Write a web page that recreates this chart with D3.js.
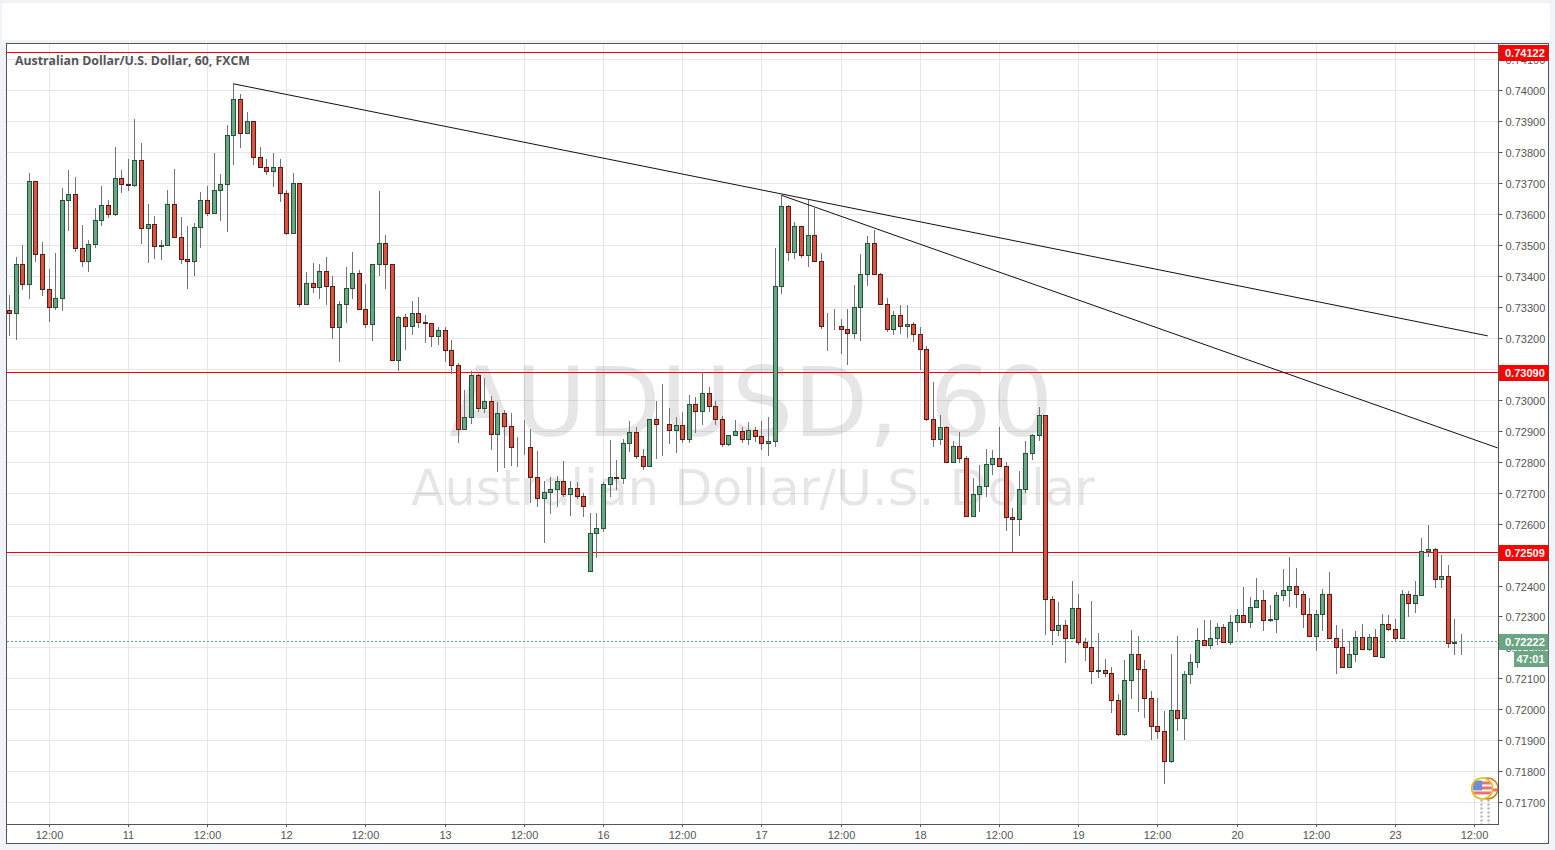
<!DOCTYPE html>
<html>
<head>
<meta charset="utf-8">
<script src="https://cdnjs.cloudflare.com/ajax/libs/d3/7.8.5/d3.min.js"></script>
<style>
html,body{margin:0;padding:0;background:#f0f3f7;overflow:hidden}
svg{display:block}
text{font-family:"Liberation Sans",Arial,sans-serif}
</style>
</head>
<body>
<svg id="c" width="1555" height="850"></svg>
<script>
// Prices in units of 0.00001, one entry per hourly candle
const opens=[73290,73280,73439,73374,73706,73471,73358,73300,73329,73646,73665,73490,73448,73503,73581,73630,73600,73717,73697,73693,
73775,73556,73569,73497,73500,73633,73526,73455,73448,73559,73646,73603,73678,73697,73856,73972,73862,73901,73785,73752,
73738,73752,73668,73540,73700,73308,73377,73363,73416,73368,73235,73309,73361,73409,73293,73245,73439,73506,73439,73129,
73267,73238,73280,73251,73248,73206,73225,73161,73112,72906,72945,73080,72974,72996,72890,72958,72916,72849,72849,72848,
72751,72683,72703,72712,72738,72696,72715,72690,72448,72570,72586,72728,72751,72748,72861,72896,72819,72786,72938,72921,
72922,72903,72919,72874,72987,72964,73022,72980,72938,72857,72887,72899,72874,72903,72883,72861,72867,73368,73626,73477,
73561,73468,73532,73448,73239,73238,73239,73229,73216,73300,73406,73506,73406,73309,73229,73274,73239,73245,73213,73164,
72938,72874,72912,72800,72851,72812,72625,72696,72722,72793,72812,72787,72622,72616,72712,72829,72887,72951,72356,72256,
72272,72230,72327,72217,72201,72123,72127,72117,72030,71920,72094,72178,72130,72036,71946,71930,71833,71997,71972,72114,
72152,72223,72207,72230,72265,72217,72281,72304,72281,72330,72353,72288,72292,72370,72387,72399,72373,72308,72237,72308,
72373,72231,72202,72137,72179,72234,72195,72234,72170,72276,72260,72231,72373,72344,72370,72512,72518,72421,72431,72215,72220];
const highs=[73340,73462,73501,73733,73706,73511,73424,73475,73685,73741,73721,73563,73516,73621,73692,73644,73815,73741,73779,73908,
73831,73634,73594,73516,73676,73747,73589,73560,73570,73670,73690,73796,73728,73889,74022,73989,73931,73901,73818,73779,
73798,73779,73676,73733,73700,73413,73442,73440,73461,73400,73319,73429,73477,73419,73375,73439,73674,73532,73439,73272,
73277,73319,73332,73274,73248,73235,73235,73194,73119,73030,73093,73083,73070,73012,72993,72967,72958,72881,72935,72906,
72835,72738,72751,72754,72803,72738,72735,72700,72635,72635,72735,72870,72804,72874,72932,72912,72841,72938,72997,73051,
72974,72945,72961,73016,73009,73089,73041,72996,72948,72887,72935,72912,72929,72912,72932,72945,73490,73661,73629,73574,
73561,73645,73619,73474,73280,73293,73261,73293,73371,73471,73529,73548,73409,73329,73287,73307,73307,73251,73235,73174,
73058,72951,72915,72867,72896,72819,72748,72790,72841,72838,72913,72800,72651,72770,72867,72890,72977,72951,72365,72346,
72288,72414,72372,72230,72349,72246,72163,72136,72049,72160,72256,72236,72159,72059,72037,71994,72178,72236,72123,72178,
72262,72288,72288,72278,72275,72304,72323,72394,72362,72424,72385,72337,72379,72452,72493,72458,72383,72360,72321,72389,
72444,72273,72260,72221,72254,72276,72244,72260,72308,72305,72292,72386,72383,72415,72554,72596,72521,72499,72467,72292,72244];
const lows=[73209,73197,73357,73328,73447,73338,73254,73294,73291,73550,73479,73431,73415,73492,73564,73592,73596,73670,73679,73690,
73506,73445,73459,73454,73500,73526,73441,73361,73402,73492,73597,73603,73580,73545,73763,73816,73862,73760,73752,73728,
73690,73642,73536,73540,73303,73308,73347,73328,73308,73199,73124,73250,73328,73293,73234,73192,73402,73360,73129,73097,
73163,73211,73236,73188,73173,73179,73124,73086,72863,72906,72925,72965,72962,72840,72769,72782,72789,72785,72824,72669,
72656,72540,72634,72656,72689,72627,72683,72624,72448,72492,72575,72689,72711,72732,72834,72812,72776,72786,72812,72822,
72861,72832,72864,72864,72896,72922,72964,72922,72851,72854,72887,72864,72857,72867,72841,72822,72851,73345,73451,73458,
73461,73431,73448,73232,73160,73229,73150,73115,73200,73192,73371,73406,73309,73222,73212,73215,73202,73189,73098,72935,
72851,72858,72800,72800,72800,72625,72625,72640,72690,72761,72787,72579,72510,72563,72703,72809,72871,72244,72212,72241,
72153,72230,72210,72160,72086,72106,72109,71992,71917,71917,72037,71996,71976,71905,71908,71761,71830,71934,71905,72086,
72136,72207,72198,72210,72217,72210,72252,72281,72265,72330,72256,72286,72249,72354,72333,72330,72265,72237,72192,72257,
72231,72118,72137,72137,72157,72195,72192,72173,72170,72257,72224,72231,72302,72315,72370,72496,72396,72396,72202,72179,72179];
const closes=[73280,73439,73374,73706,73471,73358,73300,73329,73646,73665,73490,73448,73503,73581,73630,73600,73717,73697,73694,73775,
73556,73569,73497,73500,73633,73526,73455,73448,73559,73646,73603,73678,73697,73856,73972,73862,73901,73785,73752,73738,
73752,73668,73540,73700,73308,73377,73363,73416,73368,73235,73309,73361,73409,73293,73245,73439,73506,73439,73129,73267,
73238,73280,73251,73248,73206,73225,73161,73112,72906,72945,73080,72974,72996,72890,72958,72916,72848,72848,72848,72751,
72683,72703,72712,72738,72696,72715,72690,72657,72570,72586,72728,72751,72748,72861,72896,72819,72786,72938,72922,72922,
72903,72919,72874,72987,72964,73022,72980,72938,72857,72887,72899,72874,72903,72883,72861,72867,73368,73626,73477,73561,
73468,73532,73448,73238,73238,73239,73229,73216,73300,73406,73506,73406,73309,73229,73274,73239,73245,73213,73164,72938,
72874,72912,72800,72851,72812,72625,72696,72722,72793,72812,72787,72622,72616,72712,72829,72887,72951,72356,72256,72272,
72230,72327,72217,72201,72123,72127,72117,72030,71920,72094,72178,72130,72036,71946,71930,71833,71997,71972,72114,72152,
72223,72207,72230,72265,72217,72281,72304,72281,72330,72353,72288,72291,72370,72387,72399,72373,72308,72237,72308,72373,
72231,72202,72137,72179,72234,72195,72234,72173,72276,72260,72231,72373,72344,72370,72512,72518,72421,72431,72215,72218,72222];

const priceTicks=[74100,74000,73900,73800,73700,73600,73500,73400,73300,73200,73100,73000,72900,72800,72700,72600,72500,72400,72300,72200,72100,72000,71900,71800,71700];
const timeTickIndex=[6,18,30,42,54,66,78,90,102,114,126,138,150,162,174,186,198,210,222];
const timeTickLabels=["12:00","11","12:00","12","12:00","13","12:00","16","12:00","17","12:00","18","12:00","19","12:00","20","12:00","23","12:00"];
const levels=[74122,73090,72509];
const lastPrice=72222;
const countdown="47:01";
const trendStart1=[34,74022], trendEnd1=[224,73208];
const trendStart2=[117,73662], trendEnd2=[225.5,72846];
const eventIndex=[223,224.1];
const eventPrice=71746;
const title="Australian Dollar/U.S. Dollar, 60, FXCM";
const wmLine1="AUDUSD, 60", wmLine2="Australian Dollar/U.S. Dollar";

const UP="#6ba583",DOWN="#d75442",UPB="#225437",DOWNB="#5b1a13",WICK="#737375",GRID="#e6e6e6",FRAME="#555555",TXT="#555555";
const pane={l:7,t:44,r:1498,b:824};
const outer={r:1548.5,b:843.5};
const x=d3.scaleLinear().domain([0,220]).range([9.4,1461.4]);
const y=d3.scaleLinear().domain([71700,74000]).range([802.7,90.7]);
const px=i=>Math.floor(x(i))+0.5;
const py=v=>Math.floor(y(v));
const fmt=v=>(v/100000).toFixed(5);

const svg=d3.select("#c");
svg.append("rect").attr("x",2).attr("y",3).attr("width",1548).attr("height",37).attr("fill","#fff");
svg.append("rect").attr("x",pane.l-1).attr("y",pane.t-1).attr("width",outer.r-pane.l+1).attr("height",outer.b-pane.t+1).attr("fill","#fff");
const cx0=x(eventIndex[0])+1, cx1=x(eventIndex[1])-1, cy=y(eventPrice);
const defs=svg.append("defs");
defs.append("clipPath").attr("id","pc").append("rect").attr("x",pane.l).attr("y",pane.t).attr("width",pane.r-pane.l).attr("height",pane.b-pane.t);
defs.append("clipPath").attr("id","flagc").append("circle").attr("cx",cx0).attr("cy",cy).attr("r",9.7);

const g=svg.append("g").attr("clip-path","url(#pc)");
// grid
g.append("g").selectAll("line").data(priceTicks).join("line")
 .attr("x1",pane.l).attr("x2",pane.r).attr("y1",d=>py(d)+.5).attr("y2",d=>py(d)+.5).attr("stroke",GRID);
g.append("g").selectAll("line").data(timeTickIndex).join("line")
 .attr("x1",px).attr("x2",px).attr("y1",pane.t).attr("y2",pane.b).attr("stroke",GRID);
// watermark
g.append("text").text(wmLine1).attr("x",751).attr("y",436).attr("text-anchor","middle").attr("font-size",97).attr("fill","#555").attr("fill-opacity",.15).style("font-family","'DejaVu Sans'");
g.append("text").text(wmLine2).attr("x",753).attr("y",505).attr("text-anchor","middle").attr("font-size",49).attr("fill","#555").attr("fill-opacity",.15).style("font-family","'DejaVu Sans'");
// horizontal levels
g.append("g").selectAll("line").data(levels).join("line")
 .attr("x1",pane.l).attr("x2",pane.r).attr("y1",d=>py(d)+.5).attr("y2",d=>py(d)+.5).attr("stroke","#ff0000");
// last price line
g.append("line").attr("x1",pane.l).attr("x2",pane.r).attr("y1",py(lastPrice)+.5).attr("y2",py(lastPrice)+.5).attr("stroke",UP).attr("stroke-dasharray","2,2");
// candles
const idx=d3.range(opens.length);
const cg=g.append("g");
cg.selectAll("line").data(idx).join("line")
 .attr("x1",px).attr("x2",px).attr("y1",i=>py(highs[i])).attr("y2",i=>py(lows[i])+1).attr("stroke",WICK);
cg.selectAll("rect").data(idx).join("rect")
 .attr("x",i=>px(i)-2).attr("width",4)
 .attr("y",i=>py(Math.max(opens[i],closes[i]))+.5)
 .attr("height",i=>Math.max(py(Math.min(opens[i],closes[i]))-py(Math.max(opens[i],closes[i])),0))
 .attr("fill",i=>closes[i]>=opens[i]?UP:DOWN)
 .attr("stroke",i=>closes[i]>=opens[i]?UPB:DOWNB);
// trend lines
[[trendStart1,trendEnd1],[trendStart2,trendEnd2]].forEach(([a,b])=>{
 g.append("line").attr("x1",x(a[0])).attr("y1",y(a[1])).attr("x2",x(b[0])).attr("y2",y(b[1])).attr("stroke","#111").attr("stroke-width",1);
});
// events
g.append("g").selectAll("line").data(eventIndex).join("line")
 .attr("x1",px).attr("x2",px).attr("y1",cy+11).attr("y2",pane.b).attr("stroke","#a8a8a8").attr("stroke-width",2).attr("stroke-dasharray","2,2");
g.append("circle").attr("cx",cx1).attr("cy",cy).attr("r",10.5).attr("fill","#fff").attr("stroke","#c9841f").attr("stroke-width",1.5);
g.append("rect").attr("x",cx1+2).attr("y",cy).attr("width",9).attr("height",3).attr("fill","#ef6a6a");
g.append("circle").attr("cx",cx0).attr("cy",cy).attr("r",10.5).attr("fill","#fff").attr("stroke","#d9c413").attr("stroke-width",1.6);
const fl=g.append("g").attr("clip-path","url(#flagc)");
[-7,-2,3].forEach(d=>fl.append("rect").attr("x",cx0-10).attr("y",cy+d).attr("width",20).attr("height",3).attr("fill","#ef7070"));
fl.append("rect").attr("x",cx0-9).attr("y",cy-8).attr("width",9).attr("height",10).attr("fill","#6d8fd6");
// title
svg.append("text").text(title).attr("x",15).attr("y",65).attr("font-size",12.3).attr("font-weight",700).attr("fill",TXT).style("font-family","'Open Sans'");
// axes
const yAxis=d3.axisRight(y).tickValues(priceTicks).tickFormat(fmt).tickSize(4).tickPadding(3);
const ya=svg.append("g").attr("transform",`translate(${pane.r+.5},0)`).call(yAxis);
ya.select(".domain").remove();
ya.selectAll(".tick").attr("transform",d=>`translate(0,${py(d)+.5})`);
ya.selectAll("line").attr("stroke",FRAME);
ya.selectAll("text").attr("y",1).attr("font-size",11).attr("fill",TXT).attr("font-family","'Liberation Sans'");
const xAxis=d3.axisBottom(x).tickValues(timeTickIndex.filter(i=>x(i)<pane.r)).tickFormat(i=>timeTickLabels[timeTickIndex.indexOf(i)]).tickSize(3).tickPadding(4);
const xa=svg.append("g").attr("transform",`translate(0,${pane.b})`).call(xAxis);
xa.select(".domain").remove();
xa.selectAll(".tick").attr("transform",d=>`translate(${px(d)},0)`);
xa.selectAll("line").attr("stroke",FRAME);
xa.selectAll("text").attr("font-size",11).attr("fill",TXT).attr("font-family","'Liberation Sans'");
// frame
svg.append("rect").attr("x",pane.l-.5).attr("y",pane.t-.5).attr("width",pane.r-pane.l+1).attr("height",pane.b-pane.t+1).attr("fill","none").attr("stroke",FRAME).attr("stroke-width",1);
svg.append("rect").attr("x",pane.l-.5).attr("y",pane.t-.5).attr("width",outer.r-pane.l+.5).attr("height",outer.b-pane.t+.5).attr("fill","none").attr("stroke",FRAME).attr("stroke-width",1);
// price labels
function lab(v,fill){
 const top=Math.round(y(v)-7.5);
 svg.append("rect").attr("x",pane.r+1).attr("y",top).attr("width",outer.r-pane.r-1).attr("height",16).attr("fill",fill);
 svg.append("text").text(fmt(v)).attr("x",pane.r+7).attr("y",top+12).attr("font-size",11).attr("font-weight",700).attr("fill","#fff");
}
levels.forEach(v=>lab(v,"#ff0000"));
lab(lastPrice,UP);
const cTop=Math.round(y(lastPrice)-7.5)+17;
svg.append("rect").attr("x",1514).attr("y",cTop).attr("width",outer.r-1514).attr("height",16).attr("fill",UP);
svg.append("text").text(countdown).attr("x",1530.5).attr("y",cTop+12).attr("text-anchor","middle").attr("font-size",11).attr("font-weight",700).attr("fill","#fff");
</script>
</body>
</html>
